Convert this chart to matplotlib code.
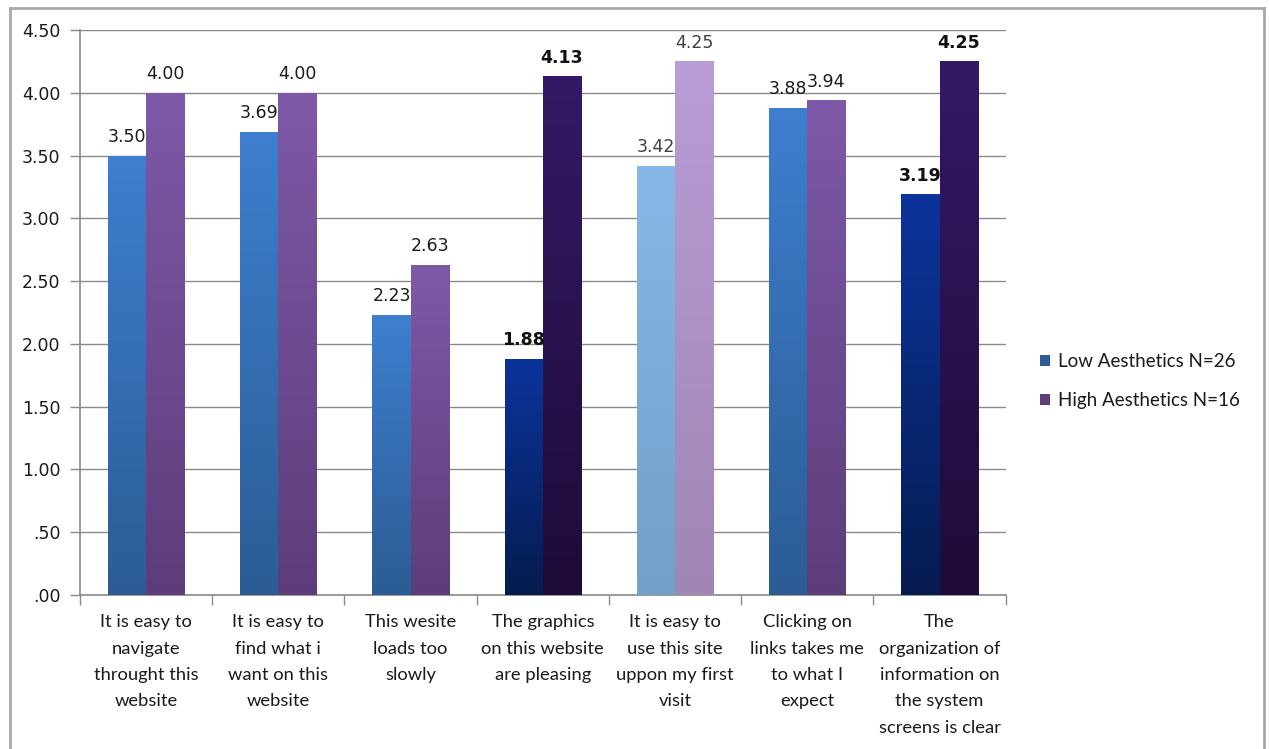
import matplotlib as mpl
mpl.use('agg')
import matplotlib.pyplot as plt
import numpy as np
from matplotlib.colors import LinearSegmentedColormap
from matplotlib.patches import Patch
from matplotlib.lines import Line2D

categories = [
    "It is easy to\nnavigate\nthrought this\nwebsite",
    "It is easy to\nfind what i\nwant on this\nwebsite",
    "This wesite\nloads too\nslowly",
    "The graphics\non this website\nare pleasing",
    "It is easy to\nuse this site\nuppon my first\nvisit",
    "Clicking on\nlinks takes me\nto what I\nexpect",
    "The\norganization of\ninformation on\nthe system\nscreens is clear",
]
low_aesthetics = [3.50, 3.69, 2.23, 1.88, 3.42, 3.88, 3.19]
high_aesthetics = [4.00, 4.00, 2.63, 4.13, 4.25, 3.94, 4.25]
series_names = ["Low Aesthetics N=26", "High Aesthetics N=16"]

# shade per category: normal, dark (bold labels) or light
shades = ["normal", "normal", "normal", "dark", "light", "normal", "dark"]

# (top, bottom) gradient colours for each series and shade
LOW = {"normal": ("#3e7fcf", "#2b5c94"),
       "dark": ("#0b349c", "#061c50"),
       "light": ("#86b9e8", "#71a0c8")}
HIGH = {"normal": ("#7e59a8", "#5c3d7a"),
        "dark": ("#341966", "#1e0b38"),
        "light": ("#b99dd7", "#9f86b3")}
LABEL_COLOR = {"normal": "#1a1a1a", "dark": "#111111", "light": "#404040"}

CAT_FONT = ["Lato", "DejaVu Sans"]


def gradient_fill(ax, rect, top, bottom):
    x, y = rect.get_xy()
    w, h = rect.get_width(), rect.get_height()
    cmap = LinearSegmentedColormap.from_list("g", [bottom, top])
    grad = np.linspace(0, 1, 256).reshape(-1, 1)
    im = ax.imshow(grad, extent=[x, x + w, y, y + h], origin="lower",
                   cmap=cmap, aspect="auto", zorder=rect.get_zorder(),
                   interpolation="bilinear")
    im.set_clip_path(rect)
    rect.set_facecolor("none")


fig = plt.figure(figsize=(12.69, 7.49), dpi=100)
ax = fig.add_axes([0.063, 0.2056, 0.7295, 0.7544])

x = np.arange(len(categories))
width = 0.288
low_bars = ax.bar(x - width / 2, low_aesthetics, width, zorder=3, linewidth=0)
high_bars = ax.bar(x + width / 2, high_aesthetics, width, zorder=3, linewidth=0)

for i, (lb, hb) in enumerate(zip(low_bars, high_bars)):
    gradient_fill(ax, lb, *LOW[shades[i]])
    gradient_fill(ax, hb, *HIGH[shades[i]])
    bold = "bold" if shades[i] == "dark" else "normal"
    col = LABEL_COLOR[shades[i]]
    for bar, v in ((lb, low_aesthetics[i]), (hb, high_aesthetics[i])):
        ax.annotate(f"{v:.2f}", (bar.get_x() + bar.get_width() / 2, v),
                    xytext=(0, 7), textcoords="offset points",
                    ha="center", va="bottom", fontsize=12.5,
                    fontweight=bold, color=col, zorder=5)

ax.set_xlim(-0.5, len(categories) - 0.5)
ax.set_ylim(0, 4.5)

yt = np.arange(0, 4.51, 0.5)
ax.set_yticks(yt)
ax.set_yticklabels([f"{v:.2f}".lstrip("0") if v < 1 else f"{v:.2f}" for v in yt],
                   fontsize=12.5, color="#1a1a1a")
ax.yaxis.grid(True, color="#8a8a8a", linewidth=1.0, zorder=0)
ax.set_axisbelow(True)

# category labels below the axis, ticks at group boundaries
ax.set_xticks(x)
ax.set_xticklabels([])
ax.set_xticks(np.arange(-0.5, len(categories)), minor=True)
ax.tick_params(axis="x", which="major", length=0)
ax.tick_params(axis="x", which="minor", length=7, color="#8a8a8a", width=1)
ax.tick_params(axis="y", length=7, color="#8a8a8a", width=1, pad=7)
for xi, lab in zip(x, categories):
    ax.text(xi, -0.155, lab, ha="center", va="top", fontsize=13.2,
            family=CAT_FONT, color="#1a1a1a", linespacing=1.79)

for s in ("top", "right"):
    ax.spines[s].set_visible(False)
for s in ("left", "bottom"):
    ax.spines[s].set_color("#8a8a8a")
    ax.spines[s].set_linewidth(1.2)

handles = [Patch(facecolor=LOW["normal"][1], edgecolor="none"),
           Patch(facecolor=HIGH["normal"][1], edgecolor="none")]
fig.legend(handles, series_names, loc="center left",
           bbox_to_anchor=(0.806, 0.491), frameon=False,
           prop={"family": CAT_FONT, "size": 13.5},
           handlelength=0.55, handleheight=0.55, handletextpad=0.45,
           labelspacing=1.15, labelcolor="#1a1a1a")

# outer chart frame
fw, fh = fig.get_size_inches() * fig.dpi
frame = dict(color="#a8a8a8", linewidth=2, transform=fig.transFigure)
fig.add_artist(Line2D([10 / fw, 10 / fw], [0, 1 - 8 / fh], **frame))
fig.add_artist(Line2D([10 / fw, 1264 / fw], [1 - 8 / fh, 1 - 8 / fh], **frame))
fig.add_artist(Line2D([1264 / fw, 1264 / fw], [0, 1 - 8 / fh], **frame))

fig.savefig("out.png", dpi=100)
